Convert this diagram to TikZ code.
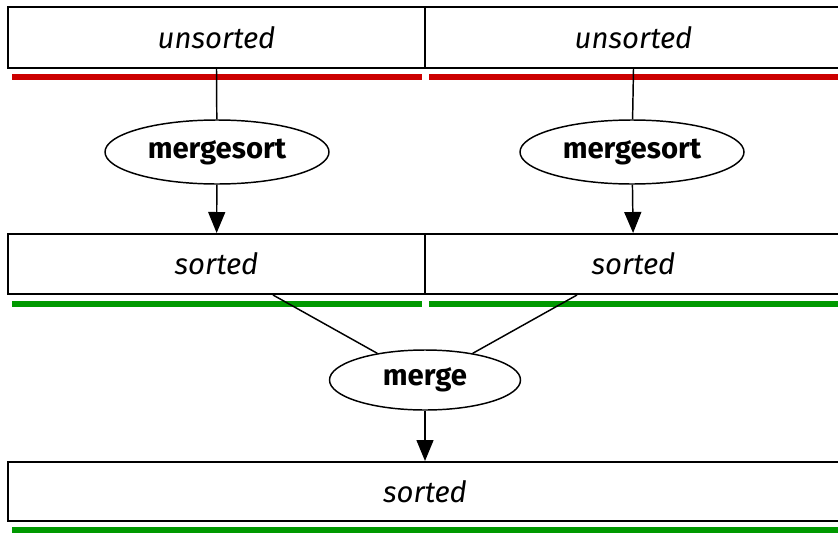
\documentclass[tikz,border=0pt]{standalone}
\usepackage{fontspec}
\setmainfont{Fira Sans}
\usetikzlibrary{shapes.geometric,arrows.meta}
\definecolor{sortred}{RGB}{204,0,0}
\definecolor{sortgreen}{RGB}{0,153,0}

\begin{document}
\begin{tikzpicture}[x=0.75pt,y=-0.75pt,
    block/.style={draw, line width=1.5pt, minimum width=312.75pt, minimum height=45.75pt,
      inner sep=0pt, font=\fontsize{22}{26}\selectfont\itshape},
    sorter/.style={draw, ellipse, line width=1.1pt, minimum width=168pt, minimum height=48pt,
      inner sep=0pt, font=\fontsize{22}{26}\selectfont\bfseries},
    bar/.style={line width=4.5pt},
    link/.style={line width=1.1pt},
    tip/.style={-{Triangle[width=12.75pt,length=15.75pt]}}]

      \useasboundingbox (0,0) rectangle (838,532);
      \clip (0,0) rectangle (838,532);

      % unsorted halves
      \node[block] (unsl) at (216.5,37.5) {unsorted};
      \node[block] (unsr) at (633.5,37.5) {unsorted};
      \draw [bar, sortred] ([shift={(5,8)}]unsl.south west) -- ([shift={(-4,8)}]unsl.south east);
      \draw [bar, sortred] ([shift={(5,8)}]unsr.south west) -- ([shift={(-4,8)}]unsr.south east);

      % recursive calls
      \node[sorter] (msl) at (217,152) {mergesort};
      \node[sorter] (msr) at (632,152) {mergesort};
      \draw [link] (unsl.south) -- (msl);
      \draw [link] (unsr.south) -- (msr);

      % sorted halves
      \node[block, minimum height=45pt] (sl) at (216.5,264) {sorted};
      \node[block, minimum height=45pt] (sr) at (633.5,264) {sorted};
      \draw [bar, sortgreen] ([shift={(5,8.5)}]sl.south west) -- ([shift={(-4,8.5)}]sl.south east);
      \draw [bar, sortgreen] ([shift={(5,8.5)}]sr.south west) -- ([shift={(-4,8.5)}]sr.south east);
      \draw [link, tip] (msl) -- (sl);
      \draw [link, tip] (msr) -- (sr);

      % merge step
      \node[sorter, minimum width=143.25pt, minimum height=45pt] (mg) at (425,380) {merge};
      \draw [link] ([shift={(56.5,0)}]sl.south) -- (mg);
      \draw [link] ([shift={(-56.5,0)}]sr.south) -- (mg);

      % result
      \node[block, minimum width=625.5pt, minimum height=44.25pt] (all) at (425,491.5) {sorted};
      \draw [bar, sortgreen] ([shift={(5,8)}]all.south west) -- ([shift={(-4,8)}]all.south east);
      \draw [link, tip] (mg) -- (all);

\end{tikzpicture}
\end{document}
